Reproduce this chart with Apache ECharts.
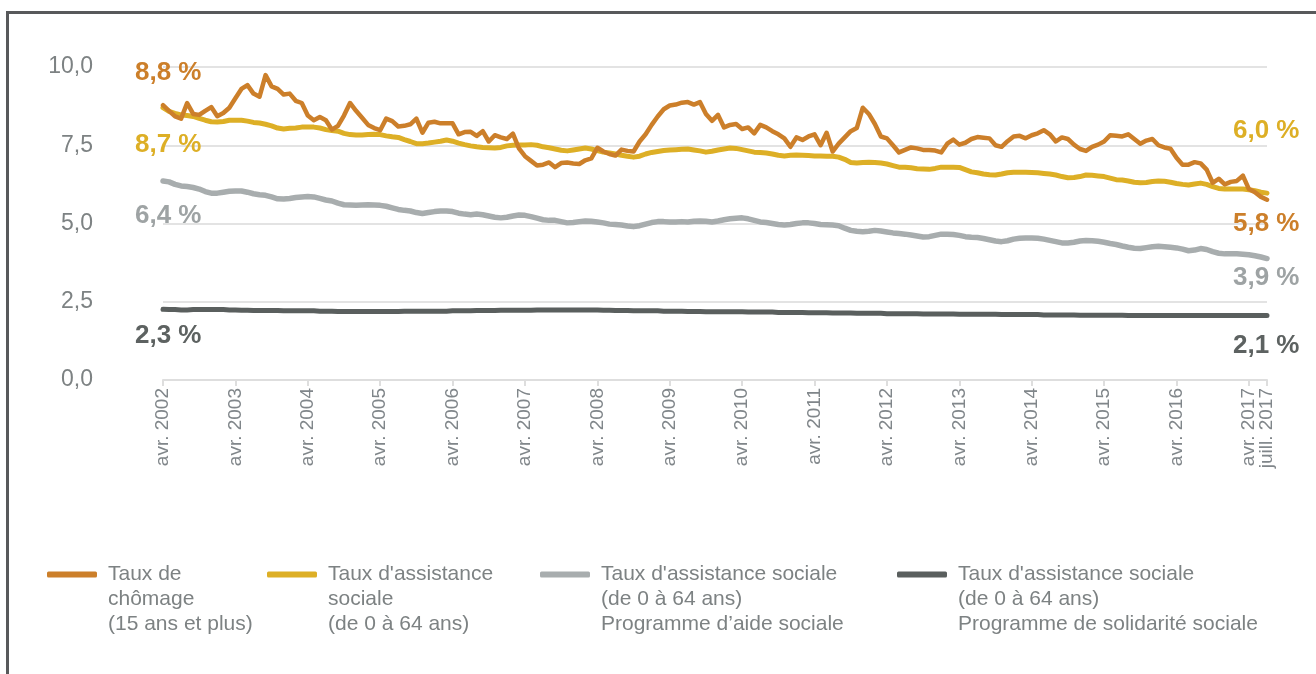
<!DOCTYPE html>
<html>
<head>
<meta charset="utf-8">
<script src="https://cdn.jsdelivr.net/npm/echarts@6/dist/echarts.min.js"></script>
<style>
  html, body { margin: 0; padding: 0; background: #ffffff; }
  #wrap { position: relative; width: 1316px; height: 674px; overflow: hidden; }
  #frame { position: absolute; left: 6px; top: 11px; width: 1400px; height: 800px;
           border-left: 3px solid #58595b; border-top: 3px solid #58595b; box-sizing: border-box; }
  #chart { position: absolute; left: 0; top: 0; width: 1316px; height: 674px; }
</style>
</head>
<body>
<div id="wrap"><div id="frame"></div><div id="chart"></div></div>
<script>
// ---- Data (monthly, avr. 2002 -> juill. 2017) ----
const monthNames = ['janv.', 'févr.', 'mars', 'avr.', 'mai', 'juin', 'juill.', 'août', 'sept.', 'oct.', 'nov.', 'déc.'];
const startYear = 2002;
const startMonth = 3; // avr.

const seriesNames = [
  "Taux de\nchômage\n(15 ans et plus)",
  "Taux d'assistance\nsociale\n(de 0 à 64 ans)",
  "Taux d'assistance sociale\n(de 0 à 64 ans)\nProgramme d’aide sociale",
  "Taux d'assistance sociale\n(de 0 à 64 ans)\nProgramme de solidarité sociale"
];

const chomage = [
  8.78, 8.6, 8.42, 8.35, 8.85, 8.5, 8.47, 8.6, 8.72, 8.43,
  8.53, 8.7, 9.0, 9.3, 9.42, 9.15, 9.05, 9.74, 9.38, 9.3,
  9.12, 9.15, 8.92, 8.85, 8.45, 8.3, 8.4, 8.3, 8.0, 8.12,
  8.45, 8.85, 8.6, 8.38, 8.15, 8.05, 7.98, 8.35, 8.27, 8.1,
  8.12, 8.17, 8.35, 7.9, 8.22, 8.25, 8.2, 8.2, 8.2, 7.85,
  7.92, 7.93, 7.8, 7.95, 7.62, 7.82, 7.75, 7.7, 7.87, 7.4,
  7.15, 7.0, 6.85, 6.88, 6.95, 6.8, 6.93, 6.95, 6.92, 6.9,
  7.02, 7.08, 7.42, 7.3, 7.22, 7.17, 7.36, 7.32, 7.3, 7.62,
  7.85, 8.15, 8.42, 8.65, 8.77, 8.8, 8.86, 8.88, 8.8, 8.88,
  8.5, 8.28, 8.47, 8.07, 8.15, 8.18, 8.02, 8.07, 7.88, 8.15,
  8.07, 7.95, 7.85, 7.72, 7.45, 7.75, 7.67, 7.78, 7.85, 7.5,
  7.9, 7.3, 7.55, 7.75, 7.95, 8.05, 8.7, 8.5, 8.18, 7.78,
  7.72, 7.5, 7.27, 7.35, 7.43, 7.4, 7.35, 7.35, 7.33, 7.27,
  7.55, 7.68, 7.52, 7.58, 7.7, 7.76, 7.74, 7.72, 7.5, 7.45,
  7.63, 7.78, 7.8, 7.72, 7.82, 7.88, 7.98, 7.85, 7.62, 7.75,
  7.7, 7.52, 7.38, 7.32, 7.45, 7.52, 7.62, 7.82, 7.8, 7.78,
  7.85, 7.7, 7.55, 7.65, 7.7, 7.5, 7.43, 7.39, 7.1, 6.88,
  6.88, 6.96, 6.92, 6.72, 6.3, 6.43, 6.25, 6.33, 6.36, 6.53,
  6.1, 6.0, 5.85, 5.76
];

const assistance = [
  8.7, 8.58, 8.52, 8.47, 8.45, 8.42, 8.36, 8.3, 8.25, 8.24,
  8.26, 8.3, 8.3, 8.3, 8.27, 8.23, 8.21, 8.17, 8.12, 8.05,
  8.02, 8.04, 8.05, 8.08, 8.08, 8.08, 8.05, 8.0, 7.97, 7.95,
  7.88, 7.84, 7.83, 7.83, 7.84, 7.85, 7.84, 7.8, 7.77, 7.75,
  7.68, 7.62, 7.55, 7.55, 7.57, 7.6, 7.63, 7.67, 7.63, 7.57,
  7.52, 7.48, 7.45, 7.43, 7.42, 7.41, 7.43, 7.48, 7.5, 7.51,
  7.51, 7.52, 7.5, 7.45, 7.42, 7.38, 7.34, 7.32, 7.35, 7.38,
  7.41, 7.38, 7.33, 7.28, 7.25, 7.22, 7.18, 7.15, 7.12, 7.15,
  7.22, 7.27, 7.3, 7.33, 7.35, 7.36, 7.37, 7.38, 7.35, 7.32,
  7.28, 7.31, 7.35, 7.38, 7.41, 7.4, 7.36, 7.32, 7.28, 7.27,
  7.25, 7.22, 7.18, 7.16, 7.18, 7.19, 7.18, 7.17, 7.16, 7.16,
  7.15, 7.15, 7.12, 7.05, 6.95, 6.93, 6.95, 6.96, 6.95, 6.93,
  6.9, 6.85, 6.8, 6.8, 6.78, 6.75, 6.74, 6.73, 6.76, 6.8,
  6.8, 6.8, 6.79, 6.72, 6.65, 6.62, 6.58, 6.56, 6.55, 6.58,
  6.62, 6.64, 6.64, 6.64, 6.63, 6.62, 6.6, 6.58, 6.55, 6.5,
  6.46, 6.47, 6.5, 6.55, 6.54, 6.52, 6.5, 6.45, 6.4, 6.39,
  6.36, 6.32, 6.3, 6.31, 6.34, 6.36, 6.35, 6.32, 6.28, 6.25,
  6.23, 6.26, 6.29, 6.25, 6.18, 6.12, 6.1, 6.1, 6.1, 6.1,
  6.08, 6.05, 6.0, 5.97
];

const aideSociale = [
  6.36, 6.33, 6.25, 6.2, 6.18, 6.15, 6.1, 6.02, 5.97, 5.97,
  6.0, 6.03, 6.04, 6.04, 6.0, 5.95, 5.92, 5.9, 5.85, 5.79,
  5.78, 5.8, 5.83, 5.85, 5.86, 5.85, 5.8, 5.75, 5.72, 5.65,
  5.6, 5.59, 5.58, 5.59, 5.6, 5.59, 5.58, 5.55, 5.5, 5.45,
  5.42, 5.4, 5.35, 5.32, 5.35, 5.38, 5.4, 5.4, 5.38, 5.33,
  5.3, 5.28, 5.3, 5.28, 5.24, 5.2, 5.18, 5.2, 5.24, 5.27,
  5.26, 5.22, 5.17, 5.12, 5.1, 5.1, 5.06, 5.02, 5.03, 5.06,
  5.08, 5.07, 5.05, 5.02, 4.98, 4.97, 4.95, 4.92, 4.9, 4.93,
  4.98, 5.03, 5.06, 5.06, 5.05, 5.05, 5.06, 5.05, 5.07, 5.08,
  5.07, 5.05, 5.08, 5.12, 5.15, 5.17, 5.18, 5.15, 5.1, 5.05,
  5.03, 5.0, 4.97, 4.95, 4.97, 5.0, 5.02, 5.02, 5.0, 4.97,
  4.96, 4.95, 4.93, 4.85, 4.78, 4.75, 4.74, 4.75, 4.78, 4.76,
  4.73, 4.7, 4.68, 4.66, 4.63, 4.6, 4.57, 4.58, 4.62, 4.66,
  4.66, 4.65, 4.62, 4.58, 4.56, 4.55, 4.52, 4.48, 4.44, 4.42,
  4.45, 4.5, 4.53, 4.54, 4.54, 4.53, 4.5, 4.46, 4.42, 4.38,
  4.38, 4.4, 4.44, 4.46, 4.45, 4.43, 4.4, 4.36, 4.33, 4.28,
  4.24, 4.21, 4.2, 4.23, 4.26, 4.27, 4.26, 4.24, 4.22, 4.18,
  4.13, 4.15, 4.2, 4.17, 4.1, 4.05, 4.03, 4.03, 4.03, 4.02,
  4.0, 3.97, 3.93, 3.88
];

const solidarite = [
  2.26, 2.25, 2.25, 2.24, 2.24, 2.25, 2.25, 2.25, 2.25, 2.25, 2.25,
  2.24, 2.24, 2.23, 2.23, 2.22, 2.22, 2.22, 2.22, 2.22, 2.21,
  2.21, 2.21, 2.21, 2.21, 2.21, 2.2, 2.2, 2.2, 2.19, 2.19,
  2.19, 2.19, 2.19, 2.19, 2.19, 2.19, 2.19, 2.19, 2.19, 2.2,
  2.2, 2.2, 2.2, 2.2, 2.2, 2.2, 2.2, 2.21, 2.21, 2.21,
  2.21, 2.22, 2.22, 2.22, 2.22, 2.23, 2.23, 2.23, 2.23, 2.23,
  2.23, 2.24, 2.24, 2.24, 2.24, 2.24, 2.24, 2.24, 2.24, 2.24,
  2.24, 2.24, 2.23, 2.23, 2.22, 2.22, 2.22, 2.21, 2.21, 2.21,
  2.21, 2.21, 2.2, 2.2, 2.2, 2.2, 2.19, 2.19, 2.19, 2.18,
  2.18, 2.18, 2.18, 2.18, 2.18, 2.18, 2.17, 2.17, 2.17, 2.17,
  2.17, 2.16, 2.16, 2.16, 2.16, 2.16, 2.15, 2.15, 2.15, 2.15,
  2.14, 2.14, 2.14, 2.14, 2.13, 2.13, 2.13, 2.13, 2.13, 2.12,
  2.12, 2.12, 2.12, 2.12, 2.12, 2.11, 2.11, 2.11, 2.11, 2.11,
  2.11, 2.1, 2.1, 2.1, 2.1, 2.1, 2.1, 2.1, 2.09, 2.09,
  2.09, 2.09, 2.09, 2.09, 2.09, 2.08, 2.08, 2.08, 2.08, 2.08,
  2.08, 2.07, 2.07, 2.07, 2.07, 2.07, 2.07, 2.07, 2.07, 2.06,
  2.06, 2.06, 2.06, 2.06, 2.06, 2.06, 2.06, 2.06, 2.06, 2.06,
  2.06, 2.06, 2.06, 2.06, 2.06, 2.06, 2.06, 2.06, 2.06, 2.06,
  2.06, 2.06, 2.06
];

const yTicks = [0, 2.5, 5, 7.5, 10];

// ---- Build categories ----
const categories = chomage.map((_, i) => {
  const m = (startMonth + i) % 12;
  const y = startYear + Math.floor((startMonth + i) / 12);
  return monthNames[m] + ' ' + y;
});
const lastIdx = categories.length - 1;
const showTick = (i) => (i % 12 === 0) || i === lastIdx;

const colors = ['#cc7f2a', '#ddaf26', '#a8adae', '#5a5f5e'];
const labelColors = ['#cc7f2a', '#ddaf26', '#9ea3a4', '#5d6261'];
const fontFam = '"Liberation Sans", Arial, Helvetica, sans-serif';
const fmt = v => (Math.round(v * 10) / 10).toFixed(1).replace('.', ',') + ' %';

function ends(values, idx, startOff, endOff) {
  const lbl = (off) => ({
    show: true, position: 'inside', align: 'left', verticalAlign: 'middle',
    offset: off, fontSize: 26, fontWeight: 'bold', color: labelColors[idx], fontFamily: fontFam
  });
  return {
    silent: true,
    symbol: 'circle', symbolSize: 2,
    itemStyle: { color: 'rgba(0,0,0,0)' },
    data: [
      { coord: [categories[0], values[0]], label: Object.assign(lbl(startOff), { formatter: fmt(values[0]) }) },
      { coord: [categories[lastIdx], values[lastIdx]], label: Object.assign(lbl(endOff), { formatter: fmt(values[lastIdx]) }) }
    ]
  };
}

const allSeries = [chomage, assistance, aideSociale, solidarite];
const widths = [4.5, 5, 5.5, 5];
const startOffsets = [[-28, -32], [-28, 37], [-28, 35], [-28, 27]];
const endOffsets = [[-34, 24], [-34, -62], [-34, 19], [-34, 30]];
const zs = [5, 4, 3, 2];

const series = allSeries.map((vals, k) => ({
  name: seriesNames[k],
  type: 'line',
  xAxisIndex: 0,
  data: vals,
  showSymbol: false,
  symbol: 'none',
  z: zs[k],
  lineStyle: { color: colors[k], width: widths[k], cap: 'round', join: 'round' },
  itemStyle: { color: colors[k] },
  markPoint: ends(vals, k, startOffsets[k], endOffsets[k])
}));

const legendLefts = [47, 267, 540, 897];
const legends = seriesNames.map((n, k) => ({
  data: [n],
  left: legendLefts[k],
  top: 512,
  padding: 0,
  itemWidth: 50,
  itemHeight: 6,
  icon: 'roundRect',
  selectedMode: false,
  formatter: name => '\n\n' + name,
  textStyle: { color: '#7d8283', fontSize: 21, lineHeight: 25, fontFamily: fontFam, padding: [0, 0, 0, 6] }
}));

const xLabelStyle = { rotate: 90, margin: 8, color: '#80868a', fontSize: 19, fontFamily: fontFam };

const chart = echarts.init(document.getElementById('chart'), null, { renderer: 'canvas' });
chart.setOption({
  animation: false,
  backgroundColor: 'transparent',
  color: colors,
  grid: { left: 163, right: 49, top: 67, bottom: 294, containLabel: false },
  legend: legends,
  xAxis: [{
    type: 'category',
    data: categories,
    boundaryGap: false,
    axisLine: { lineStyle: { color: '#dedede', width: 2 } },
    axisTick: { show: true, length: 6, interval: (i) => showTick(i), lineStyle: { color: '#dedede', width: 2 } },
    axisLabel: Object.assign({ interval: (i) => i % 12 === 0 }, xLabelStyle),
    splitLine: { show: false }
  }, {
    type: 'category',
    data: categories,
    boundaryGap: false,
    position: 'bottom',
    axisLine: { show: false },
    axisTick: { show: false },
    axisLabel: Object.assign({ interval: (i) => i === lastIdx }, xLabelStyle),
    splitLine: { show: false }
  }],
  yAxis: {
    type: 'value',
    min: yTicks[0], max: yTicks[yTicks.length - 1], interval: 2.5,
    axisLine: { show: false },
    axisTick: { show: false },
    axisLabel: {
      margin: 70, color: '#7d8283', fontSize: 23, fontFamily: fontFam,
      formatter: v => v.toFixed(1).replace('.', ',')
    },
    splitLine: { lineStyle: { color: '#e3e3e3', width: 2 } }
  },
  series: series.slice().reverse()
});
</script>
</body>
</html>
